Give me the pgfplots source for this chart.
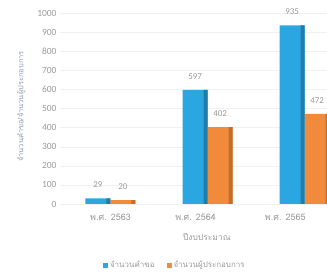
\documentclass[border=0pt]{standalone}
\usepackage{fontspec}
\setmainfont{Carlito}
\newfontfamily\thaifont[Script=Thai]{Loma}
\usepackage{pgfplots}
\pgfplotsset{compat=1.18}
\definecolor{cblue}{HTML}{2AA7E1}
\definecolor{corange}{HTML}{F28A3B}
\definecolor{txt}{HTML}{999999}
\definecolor{ylab}{HTML}{8E9CB8}
\begin{document}
\begin{tikzpicture}
\useasboundingbox (0,0) rectangle (327bp,277bp);
\begin{axis}[
  at={(60bp,73bp)}, anchor=south west,
  scale only axis, width=267bp, height=191bp,
  ymin=0, ymax=1000, ytick={0,100,...,1000},
  xmin=-0.52, xmax=2.23,
  xtick={0,0.876,1.80},
  xticklabels={{พ.ศ. 2563},{พ.ศ. 2564},{พ.ศ. 2565}},
  ybar=0pt, bar width=25bp,
  axis line style={draw=none}, tick style={draw=none},
  ymajorgrids, grid style={black!6},
  clip mode=individual,
  /pgf/number format/assume math mode=true,
  /pgf/number format/1000 sep={},
  yticklabel style={font=\fontsize{9.5}{10}\selectfont, text=txt},
  xticklabel style={font=\thaifont\fontsize{9}{10}\selectfont, text=txt, anchor=center, yshift=-9bp},
  xlabel={ปีงบประมาณ},
  xlabel style={at={(axis description cs:0.55,-0.17)}, anchor=center, font=\thaifont\fontsize{8.5}{9}\selectfont, text=txt},
  ylabel={จำนวนคำขอ/จำนวนผู้ประกอบการ},
  ylabel style={at={(axis description cs:-0.145,0.51)}, anchor=center, font=\thaifont\fontsize{7.5}{8}\selectfont, text=ylab},
  legend columns=2,
  legend style={at={(axis description cs:0.43,-0.32)}, anchor=center, draw=none, fill=none,
    font=\thaifont\fontsize{8}{9}\selectfont, text=txt,
    /tikz/every even column/.append style={column sep=10bp}},
  legend image code/.code={\fill[#1] (0bp,-2.5bp) rectangle (5bp,2.5bp);},
]
\addplot[fill=cblue, draw=none, nodes near coords,
  nodes near coords style={font=\fontsize{9}{10}\selectfont, text=txt, yshift=7bp}]
  coordinates {(0,29) (1,597) (2,935)};
\addplot[fill=corange, draw=none, nodes near coords,
  nodes near coords style={font=\fontsize{9}{10}\selectfont, text=txt, yshift=7bp}]
  coordinates {(0,20) (1,402) (2,472)};
\addplot[fill=cblue!75!black, draw=none, bar width=4bp, bar shift=-2bp, forget plot]
  coordinates {(0,29) (1,597) (2,935)};
\addplot[fill=corange!80!black, draw=none, bar width=4bp, bar shift=23bp, forget plot]
  coordinates {(0,20) (1,402) (2,472)};
\legend{จำนวนคำขอ, จำนวนผู้ประกอบการ}
\end{axis}
\end{tikzpicture}
\end{document}
